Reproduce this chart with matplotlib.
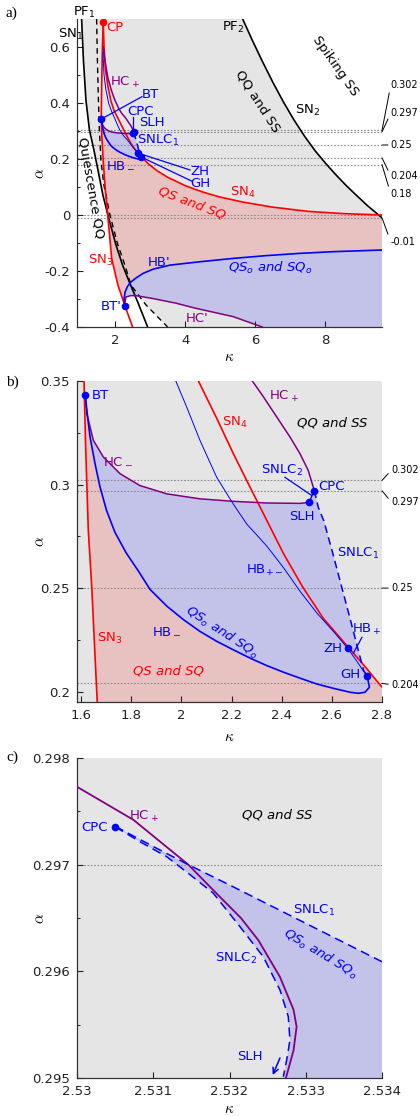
import numpy as np
import matplotlib
matplotlib.use("Agg")
import matplotlib.pyplot as plt

plt.rcParams["axes.unicode_minus"] = False

RED = "#ff0000"
BLUE = "#0000ff"
PURPLE = "#800080"
GREY_BG = "#e5e5e5"
PINK = "#e8c1c1"
LILAC = "#c3c3ea"
REF = "#8c8c8c"

# ---- bifurcation curves in the (kappa, alpha) plane, panels a) and b) ----
SN1_K = [1.051, 1.103, 1.174, 1.274, 1.402, 1.516, 1.658, 1.800, 2.030, 2.219, 2.407, 2.647, 2.932]
SN1_A = [0.700, 0.554, 0.411, 0.304, 0.232, 0.161, 0.071, 0.000, -0.107, -0.179, -0.238, -0.310, -0.400]

PF1_K = [1.479, 1.501, 1.530, 1.558, 1.601, 1.687, 1.858, 2.085, 2.285, 2.456, 2.883, 3.501]
PF1_A = [0.700, 0.554, 0.411, 0.304, 0.196, 0.107, 0.000, -0.107, -0.179, -0.250, -0.321, -0.400]

SN2_K = [5.64, 5.90, 6.20, 6.50, 6.80, 7.10, 7.40, 7.70, 8.00, 8.30, 8.60, 8.90, 9.20, 9.61]
SN2_A = [0.700, 0.628, 0.549, 0.474, 0.404, 0.340, 0.282, 0.230, 0.185, 0.143, 0.104, 0.068, 0.033, -0.010]

SN3_K = [1.667, 1.645, 1.628, 1.617, 1.612, 1.618, 1.629, 1.643, 1.665, 1.729, 1.800, 1.906, 2.085, 2.285, 2.504]
SN3_A = [0.690, 0.600, 0.500, 0.400, 0.350, 0.320, 0.278, 0.250, 0.194, 0.089, -0.007, -0.154, -0.250, -0.324, -0.400]

SN4_K = [1.667, 1.690, 1.730, 1.800, 1.880, 1.970, 2.068, 2.141, 2.207, 2.274, 2.327, 2.407, 2.486,
         2.566, 2.646, 2.726, 2.792, 2.950, 3.200, 3.500, 4.000, 4.500, 5.000, 5.650, 6.500, 7.500, 8.500, 9.610]
SN4_A = [0.690, 0.600, 0.520, 0.460, 0.410, 0.375, 0.350, 0.332, 0.315, 0.2987, 0.2860, 0.2667, 0.2501,
         0.2354, 0.2242, 0.2130, 0.2033, 0.183, 0.158, 0.135, 0.105, 0.082, 0.064, 0.046, 0.028, 0.013, 0.005, 0.000]

HC_PLUS_K = [1.667, 1.720, 1.800, 1.900, 2.000, 2.120, 2.200, 2.283, 2.327, 2.380, 2.433, 2.473, 2.506, 2.526, 2.530]
HC_PLUS_A = [0.600, 0.550, 0.490, 0.445, 0.410, 0.378, 0.362, 0.350, 0.3424, 0.3327, 0.3230, 0.3149, 0.3068, 0.2987, 0.2971]

HC_MINUS_K = [1.617, 1.623, 1.649, 1.689, 1.756, 1.835, 1.942, 2.074, 2.207, 2.340, 2.473, 2.509]
HC_MINUS_A = [0.3431, 0.3343, 0.3214, 0.3133, 0.3052, 0.2995, 0.2955, 0.2931, 0.2919, 0.2911, 0.2909, 0.2914]

HB_PM_K = [1.660, 1.690, 1.740, 1.820, 1.900, 1.978, 2.021, 2.074, 2.141, 2.207, 2.261, 2.340, 2.407,
           2.473, 2.540, 2.606, 2.663, 2.700, 2.739]
HB_PM_A = [0.580, 0.500, 0.450, 0.400, 0.372, 0.350, 0.3375, 0.3214, 0.3035, 0.2906, 0.2809, 0.2704, 0.2599,
           0.2485, 0.2380, 0.2291, 0.2210, 0.2146, 0.2077]

HB_MINUS_K = [1.617, 1.625, 1.636, 1.656, 1.676, 1.702, 1.735, 1.780, 1.830, 1.875, 1.942, 2.008, 2.074, 2.141,
              2.207, 2.274, 2.340, 2.407, 2.473, 2.540, 2.606, 2.673, 2.706, 2.732, 2.750, 2.743, 2.739]
HB_MINUS_A = [0.3431, 0.3340, 0.3230, 0.3100, 0.2987, 0.2874, 0.2770, 0.2670, 0.2580, 0.2494, 0.2413, 0.2348,
              0.2291, 0.2243, 0.2202, 0.2162, 0.2126, 0.2094, 0.2065, 0.2037, 0.2016, 0.1997, 0.1992, 0.1997,
              0.2021, 0.2062, 0.2077]

SNLC1_K = [2.530, 2.546, 2.568, 2.600, 2.635, 2.670, 2.700, 2.726, 2.739]
SNLC1_A = [0.2971, 0.2890, 0.2825, 0.2685, 0.2525, 0.2365, 0.2225, 0.2105, 0.2077]

HB_PRIME_K = [2.285, 2.262, 2.290, 2.360, 2.450, 2.600, 2.810, 3.100, 3.570, 4.420, 5.370, 6.320, 7.270, 8.220, 9.610]
HB_PRIME_A = [-0.324, -0.300, -0.275, -0.255, -0.240, -0.225, -0.208, -0.193, -0.179, -0.167, -0.155, -0.145,
              -0.137, -0.131, -0.125]

HC_PRIME_K = [2.290, 2.313, 2.450, 2.600, 3.070, 3.740, 4.300, 5.370, 6.200]
HC_PRIME_A = [-0.310, -0.293, -0.288, -0.288, -0.298, -0.315, -0.333, -0.363, -0.400]

# special points
CP = (1.667, 0.690)
BT = (1.617, 0.3431)
CPC = (2.530, 0.2971)
SLH = (2.509, 0.2914)
ZH = (2.663, 0.2210)
GH = (2.739, 0.2077)
BT_PRIME = (2.285, -0.324)

LEVELS_A = [0.302, 0.297, 0.25, 0.204, 0.18, 0.0, -0.01]
LABELLED_A = [0.302, 0.297, 0.25, 0.204, 0.18, -0.01]
LABEL_Y_A = [0.464, 0.364, 0.25, 0.139, 0.075, -0.096]
LEVELS_B = [0.302, 0.297, 0.25, 0.204]
LABEL_Y_B = [0.3068, 0.2917, 0.25, 0.2034]
LEVEL_C = [0.297]

# ---- panel c): close-up around the cusp of periodic orbits ----
HC_PLUS_C_K = [2.53000, 2.53074, 2.53146, 2.53183, 2.53215, 2.53238, 2.53266, 2.53284, 2.53288, 2.53284, 2.53274]
HC_PLUS_C_A = [0.29773, 0.29742, 0.29700, 0.29673, 0.29650, 0.29629, 0.29595, 0.29564, 0.29548, 0.29526, 0.29500]

SNLC1_C_K = [2.53050, 2.53100, 2.53146, 2.53200, 2.53300, 2.53400]
SNLC1_C_A = [0.29736, 0.29717, 0.29700, 0.29681, 0.29645, 0.29609]

SNLC2_C_K = [2.530498, 2.530826, 2.531176, 2.531460, 2.531788, 2.532138, 2.532443, 2.532662, 2.532771,
             2.532793, 2.532750, 2.532706]
SNLC2_C_A = [0.297356, 0.297215, 0.297075, 0.296919, 0.296732, 0.296418, 0.296137, 0.295825, 0.295575,
             0.295356, 0.295169, 0.295012]

CPC_C = (2.530498, 0.297356)


def style_axes(ax):
    for side in ("top", "right"):
        ax.spines[side].set_visible(False)
    for side in ("left", "bottom"):
        ax.spines[side].set_linewidth(0.9)
        ax.spines[side].set_color("#333333")
    ax.tick_params(direction="in", length=4, width=0.8, labelsize=9.5, pad=5, colors="#222222")
    ax.tick_params(which="minor", direction="in", length=2.5, width=0.6)


def level_labels(ax, levels, ys, xtext, xedge):
    for v, yt in zip(levels, ys):
        ax.annotate(f"{v:g}", xy=(xedge, v), xytext=(xtext, yt), textcoords="data",
                    fontsize=7, ha="left", va="center", annotation_clip=False,
                    arrowprops=dict(arrowstyle="-", lw=0.7, color="k", shrinkA=0, shrinkB=0,
                                    relpos=(0, 0.5)))


def polygon(*parts):
    k = np.concatenate([np.asarray(p[0], float) for p in parts])
    a = np.concatenate([np.asarray(p[1], float) for p in parts])
    return k, a


def draw_ab_curves(ax):
    ax.plot(SN3_K, SN3_A, color=RED, lw=1.2, zorder=3)
    ax.plot(SN4_K, SN4_A, color=RED, lw=1.2, zorder=3)
    ax.plot(HC_PLUS_K, HC_PLUS_A, color=PURPLE, lw=1.1, zorder=3)
    ax.plot(HC_MINUS_K, HC_MINUS_A, color=PURPLE, lw=1.1, zorder=3)
    ax.plot(HB_PM_K, HB_PM_A, color=BLUE, lw=0.7, zorder=3)
    ax.plot(HB_MINUS_K, HB_MINUS_A, color=BLUE, lw=1.2, zorder=3)
    ax.plot(SNLC1_K, SNLC1_A, color=BLUE, lw=1.1, ls=(0, (5, 3)), zorder=3)
    ax.plot([SLH[0], CPC[0]], [SLH[1], CPC[1]], color=BLUE, lw=1.0, zorder=3)


sn3_k = np.array(SN3_K)
sn3_a = np.array(SN3_A)
sn4_k = np.array(SN4_K)
sn4_a = np.array(SN4_A)
hcm_k = np.array(HC_MINUS_K)
hcm_a = np.array(HC_MINUS_A)

keep3 = (sn3_a < BT[1]) & (sn3_a >= BT_PRIME[1])
keep4 = sn4_k >= 2.327
keepm = hcm_k <= 2.207
pink_poly = polygon(([BT[0]], [BT[1]]), (sn3_k[keep3], sn3_a[keep3]), (HB_PRIME_K, HB_PRIME_A),
                    (sn4_k[keep4][::-1], sn4_a[keep4][::-1]), (hcm_k[keepm][::-1], hcm_a[keepm][::-1]))
lilac_poly = polygon((HC_MINUS_K, HC_MINUS_A), (SNLC1_K, SNLC1_A), (HB_MINUS_K[::-1], HB_MINUS_A[::-1]))
lilac_low = polygon((HB_PRIME_K, HB_PRIME_A), ([9.7, 6.2], [-0.45, -0.45]), (HC_PRIME_K[::-1], HC_PRIME_A[::-1]))

sn1_k = np.array(SN1_K)
sn1_a = np.array(SN1_A)
pf1_k = np.array(PF1_K)
pf1_a = np.array(PF1_A)
grey_poly = polygon((sn1_k[sn1_a >= 0], sn1_a[sn1_a >= 0]), (pf1_k[pf1_a < 0], pf1_a[pf1_a < 0]),
                    ([9.7, 9.7], [-0.45, -0.01]), (SN2_K[::-1], SN2_A[::-1]))

fig = plt.figure(figsize=(4.2, 11.16), dpi=100)
W, H = 420.0, 1116.0
ax_a = fig.add_axes([77 / W, 1 - 327 / H, 305 / W, 308 / H])
ax_b = fig.add_axes([77 / W, 1 - 702 / H, 305 / W, 321 / H])
ax_c = fig.add_axes([77 / W, 1 - 1078 / H, 305 / W, 320 / H])

# ---------------- panel a ----------------
ax = ax_a
ax.set_xlim(0.92, 9.61)
ax.set_ylim(-0.4, 0.7)
ax.fill(*grey_poly, color=GREY_BG, lw=0, zorder=0.5)
ax.fill(*pink_poly, color=PINK, lw=0, zorder=0.6)
ax.fill(*lilac_poly, color=LILAC, lw=0, zorder=0.7)
ax.fill(*lilac_low, color=LILAC, lw=0, zorder=0.7)
for v in LEVELS_A:
    ax.axhline(v, color=REF, lw=0.8, ls=(0, (1.5, 1.5)), zorder=1)
ax.plot(SN1_K, SN1_A, color="k", lw=1.2, zorder=2.5)
ax.plot(PF1_K, PF1_A, color="k", lw=1.0, ls=(0, (4, 3)), zorder=2.5)
ax.plot(SN2_K, SN2_A, color="k", lw=1.2, zorder=2.5)
draw_ab_curves(ax)
ax.plot(HB_PRIME_K, HB_PRIME_A, color=BLUE, lw=1.2, zorder=3)
ax.plot(HC_PRIME_K, HC_PRIME_A, color=PURPLE, lw=1.1, zorder=3)
ax.plot(*CP, "o", color=RED, ms=4.5, zorder=4)
for p in (BT, CPC, SLH, ZH, GH, BT_PRIME):
    ax.plot(*p, "o", color=BLUE, ms=4.5, zorder=4)

ax.plot([BT[0], 2.77], [BT[1], 0.4225], color=BLUE, lw=0.9, zorder=4)
ax.plot([2.52, 2.52], [CPC[1], 0.351], color=BLUE, lw=0.9, zorder=4)
ax.plot([ZH[0], 4.14], [ZH[1], 0.161], color=BLUE, lw=0.9, zorder=4)
ax.plot([GH[0], 4.19], [GH[1], 0.121], color=BLUE, lw=0.9, zorder=4)

fs = 9.5
ax.text(1.117, 0.722, "PF$_1$", fontsize=fs, ha="center", va="center", clip_on=False)
ax.text(0.746, 0.645, "SN$_1$", fontsize=fs, ha="center", va="center", clip_on=False)
ax.text(2.0, 0.668, "CP", fontsize=fs, color=RED, ha="center", va="center")
ax.text(5.36, 0.671, "PF$_2$", fontsize=fs, ha="center", va="center")
ax.text(8.27, 0.532, "Spiking SS", fontsize=fs, ha="center", va="center", rotation=-55)
ax.text(6.07, 0.407, "QQ and SS", fontsize=fs, ha="center", va="center", rotation=-57)
ax.text(7.50, 0.375, "SN$_2$", fontsize=fs, ha="center", va="center")
ax.text(2.285, 0.475, "HC$_+$", fontsize=fs, color=PURPLE, ha="center", va="center")
ax.text(2.77, 0.432, "BT", fontsize=fs, color=BLUE, ha="left", va="center")
ax.text(2.741, 0.368, "CPC", fontsize=fs, color=BLUE, ha="center", va="center")
ax.text(3.054, 0.329, "SLH", fontsize=fs, color=BLUE, ha="center", va="center")
ax.text(3.225, 0.268, "SNLC$_1$", fontsize=fs, color=BLUE, ha="center", va="center")
ax.text(2.171, 0.182, "HB$_-$", fontsize=fs, color=BLUE, ha="center", va="center")
ax.text(4.14, 0.154, "ZH", fontsize=fs, color=BLUE, ha="left", va="center")
ax.text(4.14, 0.114, "GH", fontsize=fs, color=BLUE, ha="left", va="center")
ax.text(5.647, 0.082, "SN$_4$", fontsize=fs, color=RED, ha="center", va="center")
ax.text(4.194, 0.043, "QS and SQ", fontsize=fs, color=RED, ha="center", va="center", rotation=-21,
        style="italic")
ax.text(1.316, 0.096, "Quiescence QQ", fontsize=fs, ha="center", va="center", rotation=-80)
ax.text(1.60, -0.164, "SN$_3$", fontsize=fs, color=RED, ha="center", va="center")
ax.text(3.254, -0.168, "HB'", fontsize=fs, color=BLUE, ha="center", va="center")
ax.text(6.416, -0.189, "QS$_o$ and SQ$_o$", fontsize=fs, color=BLUE, ha="center", va="center",
        style="italic")
ax.text(1.886, -0.325, "BT'", fontsize=fs, color=BLUE, ha="center", va="center")
ax.text(4.336, -0.371, "HC'", fontsize=fs, color=PURPLE, ha="center", va="center")

ax.set_xticks([2, 4, 6, 8], ["2", "4", "6", "8"])
ax.set_yticks([-0.4, -0.2, 0, 0.2, 0.4, 0.6], ["-0.4", "-0.2", "0", "0.2", "0.4", "0.6"])
ax.set_yticks([-0.3, -0.1, 0.1, 0.3, 0.5], minor=True)
style_axes(ax)
level_labels(ax, LABELLED_A, LABEL_Y_A, 9.86, 9.61)

# ---------------- panel b ----------------
ax = ax_b
ax.set_facecolor(GREY_BG)
ax.set_xlim(1.584, 2.8)
ax.set_ylim(0.195, 0.35)
ax.fill(*pink_poly, color=PINK, lw=0, zorder=0.6)
ax.fill(*lilac_poly, color=LILAC, lw=0, zorder=0.7)
for v in LEVELS_B:
    ax.axhline(v, color=REF, lw=0.8, ls=(0, (1.5, 1.5)), zorder=1)
draw_ab_curves(ax)
for p in (BT, CPC, SLH, ZH, GH):
    ax.plot(*p, "o", color=BLUE, ms=4.5, zorder=4)
ax.plot([2.413, 2.520], [0.3035, 0.2947], color=BLUE, lw=0.9, zorder=4)
ax.plot([2.720, 2.686], [0.2262, 0.2186], color=BLUE, lw=0.9, zorder=4)

ax.text(1.676, 0.3432, "BT", fontsize=fs, color=BLUE, ha="center", va="center")
ax.text(2.409, 0.3427, "HC$_+$", fontsize=fs, color=PURPLE, ha="center", va="center")
ax.text(2.214, 0.3301, "SN$_4$", fontsize=fs, color=RED, ha="center", va="center")
ax.text(2.601, 0.3296, "QQ and SS", fontsize=fs, ha="center", va="center", style="italic")
ax.text(1.748, 0.3117, "HC$_-$", fontsize=fs, color=PURPLE, ha="center", va="center")
ax.text(2.401, 0.3068, "SNLC$_2$", fontsize=fs, color=BLUE, ha="center", va="center")
ax.text(2.597, 0.2990, "CPC", fontsize=fs, color=BLUE, ha="center", va="center")
ax.text(2.481, 0.2845, "SLH", fontsize=fs, color=BLUE, ha="center", va="center")
ax.text(2.704, 0.2665, "SNLC$_1$", fontsize=fs, color=BLUE, ha="center", va="center")
ax.text(2.334, 0.2587, "HB$_{+-}$", fontsize=fs, color=BLUE, ha="center", va="center")
ax.text(1.716, 0.2257, "SN$_3$", fontsize=fs, color=RED, ha="center", va="center")
ax.text(1.943, 0.2296, "HB$_-$", fontsize=fs, color=BLUE, ha="center", va="center")
ax.text(2.162, 0.2286, "QS$_o$ and SQ$_o$", fontsize=fs, color=BLUE, ha="center", va="center",
        rotation=-33, style="italic")
ax.text(2.740, 0.2301, "HB$_+$", fontsize=fs, color=BLUE, ha="center", va="center")
ax.text(2.605, 0.2209, "ZH", fontsize=fs, color=BLUE, ha="center", va="center")
ax.text(2.673, 0.2083, "GH", fontsize=fs, color=BLUE, ha="center", va="center")
ax.text(1.947, 0.2102, "QS and SQ", fontsize=fs, color=RED, ha="center", va="center", style="italic")

ax.set_xticks([1.6, 1.8, 2.0, 2.2, 2.4, 2.6, 2.8], ["1.6", "1.8", "2", "2.2", "2.4", "2.6", "2.8"])
ax.set_yticks([0.2, 0.25, 0.3, 0.35], ["0.2", "0.25", "0.3", "0.35"])
ax.set_yticks([0.225, 0.275, 0.325], minor=True)
style_axes(ax)
level_labels(ax, LEVELS_B, LABEL_Y_B, 2.836, 2.8)

# ---------------- panel c ----------------
ax = ax_c
ax.set_facecolor(GREY_BG)
ax.set_xlim(2.53, 2.534)
ax.set_ylim(0.295, 0.298)
lilac_c = polygon(([CPC_C[0]], [CPC_C[1]]), (SNLC1_C_K, SNLC1_C_A),
                  ([2.5345, 2.5345, 2.5327], [0.29609, 0.2948, 0.2948]),
                  (SNLC2_C_K[::-1], SNLC2_C_A[::-1]))
ax.fill(*lilac_c, color=LILAC, lw=0, zorder=0.7)
for v in LEVEL_C:
    ax.axhline(v, color=REF, lw=0.8, ls=(0, (1.5, 1.5)), zorder=1)
ax.plot(HC_PLUS_C_K, HC_PLUS_C_A, color=PURPLE, lw=1.3, zorder=3)
ax.plot(SNLC1_C_K, SNLC1_C_A, color=BLUE, lw=1.1, ls=(0, (6, 3.5)), zorder=3)
ax.plot(SNLC2_C_K, SNLC2_C_A, color=BLUE, lw=1.1, ls=(0, (6, 3.5)), zorder=3)
ax.plot(*CPC_C, "o", color=BLUE, ms=4.5, zorder=4)
ax.annotate("", xy=(2.532567, 0.295028), xytext=(2.532662, 0.295188),
            arrowprops=dict(arrowstyle="->", color=BLUE, lw=1.1, shrinkA=0, shrinkB=0))

ax.text(2.530236, 0.297353, "CPC", fontsize=fs, color=BLUE, ha="center", va="center")
ax.text(2.530879, 0.297456, "HC$_+$", fontsize=fs, color=PURPLE, ha="center", va="center")
ax.text(2.532623, 0.297466, "QQ and SS", fontsize=fs, ha="center", va="center", style="italic")
ax.text(2.533108, 0.296575, "SNLC$_1$", fontsize=fs, color=BLUE, ha="center", va="center")
ax.text(2.533187, 0.296163, "QS$_o$ and SQ$_o$", fontsize=fs, color=BLUE, ha="center", va="center",
        rotation=-31, style="italic")
ax.text(2.532085, 0.296125, "SNLC$_2$", fontsize=fs, color=BLUE, ha="center", va="center")
ax.text(2.532269, 0.295197, "SLH", fontsize=fs, color=BLUE, ha="center", va="center")

ax.set_xticks([2.53, 2.531, 2.532, 2.533, 2.534], ["2.53", "2.531", "2.532", "2.533", "2.534"])
ax.set_yticks([0.295, 0.296, 0.297, 0.298], ["0.295", "0.296", "0.297", "0.298"])
ax.set_yticks([0.2955, 0.2965, 0.2975], minor=True)
style_axes(ax)

for ax, xlab in ((ax_a, -0.072), (ax_b, -0.085), (ax_c, -0.072)):
    ax.set_xlabel(r"$\kappa$", fontsize=11, math_fontfamily="cm")
    ax.set_ylabel(r"$\alpha$", fontsize=11, math_fontfamily="cm")
    ax.xaxis.set_label_coords(0.5, xlab)
    ax.yaxis.set_label_coords(-0.097, 0.5)

for label, ypix in (("a)", 13), ("b)", 382), ("c)", 757)):
    fig.text(6 / W, 1 - ypix / H, label, fontsize=11, family="Liberation Serif", va="center")

fig.savefig("out.png", dpi=100)
